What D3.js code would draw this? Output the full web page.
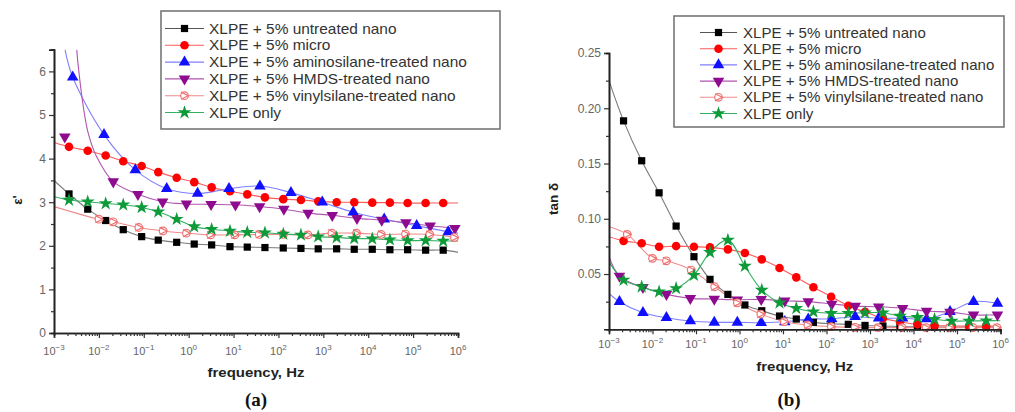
<!DOCTYPE html>
<html><head><meta charset="utf-8">
<script src="https://cdn.jsdelivr.net/npm/d3@7"></script>
<style>body{margin:0;background:#fff}svg{display:block}</style>
</head><body>
<svg id="c" width="1015" height="412"></svg>
<script>
// ---------- DATA ----------
const seriesLabels = [
  "XLPE + 5% untreated nano",
  "XLPE + 5% micro",
  "XLPE + 5% aminosilane-treated nano",
  "XLPE + 5% HMDS-treated nano",
  "XLPE + 5% vinylsilane-treated nano",
  "XLPE only"
];
const xTickExps = [-3,-2,-1,0,1,2,3,4,5,6];
const epsTicks = [0,1,2,3,4,5,6];
const tanTicks = [0.05,0.10,0.15,0.20,0.25];

// marker frequencies (Hz)
const fA = [0.00216,0.00564,0.01416,0.0349,0.0897,0.210,0.541,1.33,3.25,8.32,20.2,50.0,128,317,769,1980,4880,12300,30400,75500,190000,468000];
const fM = [0.00174,0.00603,0.0209,0.0741,0.263,0.891,3.16,11.0,38.0,132,457,1580,5620,20000,69200,240000,851000];
const fBlueA = [0.00261,0.0130,0.0647,0.324,1.58,7.91,38.7,190,946,4630,22700,120000,605000];
const fPink = [0.00263,0.0100,0.0209,0.0776,0.269,0.891,3.09,10.7,37.2,129,457,1550,5500,19500,67600,234000,832000];

// (a) permittivity ε'
const epsUntreated = [3.19,2.84,2.58,2.37,2.21,2.13,2.08,2.04,2.02,1.98,1.97,1.96,1.95,1.94,1.93,1.93,1.92,1.92,1.91,1.91,1.90,1.90];
const epsMicro = [4.27,4.18,4.07,3.94,3.83,3.69,3.56,3.46,3.34,3.25,3.18,3.11,3.07,3.05,3.02,3.00,3.00,2.99,2.99,2.98,2.98,2.98];
const epsAmino = [5.87,4.55,3.74,3.31,3.20,3.31,3.37,3.22,3.00,2.77,2.61,2.46,2.32];
const epsHmds = [4.50,null,3.47,3.18,3.01,2.96,2.95,2.94,2.90,2.84,2.75,2.70,2.63,2.59,2.53,2.46,2.40];
const epsVinyl = [null,2.61,2.55,2.42,2.34,2.29,2.25,2.25,2.26,2.26,2.25,2.29,2.29,2.26,2.27,2.26,2.19];
const epsXlpe = [3.05,3.01,2.97,2.94,2.88,2.78,2.61,2.44,2.38,2.34,2.31,2.30,2.27,2.25,2.21,2.19,2.17,2.16,2.14,2.12,2.12,2.11];
// fitted-curve end knots [Hz, value]
const epsHeads = [[[0.001,3.50]],[[0.001,4.37]],[[0.00176,6.5]],[[0.00321,6.5],[0.00348,6.11],[0.0045,5.19],[0.0058,4.58],[0.00893,4.04]],[[0.001,2.90]],[[0.001,3.13]]];
const epsTails = [[[1e6,1.85]],[[1e6,2.98]],[[1e6,2.29]],[[1e6,2.39]],[[1e6,2.16]],[[1e6,2.11]]];

// (b) loss tangent tan δ
const tanUntreated = [0.1886,0.1525,0.1235,0.0934,0.0657,0.0452,0.0316,0.0220,0.0168,0.0120,0.0093,0.0063,0.0050,0.0045,0.0035,0.0030,0.0025,0.0022,0.0020,0.0020,0.0020,0.0020];
const tanMicro = [0.0800,0.0778,0.0747,0.0753,0.0747,0.0741,0.0723,0.0690,0.0633,0.0555,0.0470,0.0380,0.0295,0.0213,0.0159,0.0099,0.0069,0.0045,0.0035,0.0030,0.0030,0.0030];
const tanAmino = [0.0250,0.0150,0.0105,0.0075,0.0063,0.0063,0.0060,0.0068,0.0092,0.0095,0.0114,0.0100,0.0100,0.0093,0.0159,0.0250,0.0235];
const tanHmds = [0.0482,0.0380,0.0316,0.0280,0.0274,0.0267,0.0271,0.0258,0.0250,0.0229,0.0210,0.0204,0.0190,0.0165,0.0155,0.0130,0.0130];
const tanVinyl = [0.0859,0.0642,0.0620,0.0536,0.0385,0.0240,0.0138,0.0069,0.0039,0.0024,0.0018,0.0015,0.0015,0.0015,0.0015,0.0015,0.0015];
const tanXlpe = [0.0446,0.0385,0.0340,0.0370,0.0490,0.0696,0.0807,0.0572,0.0355,0.0240,0.0190,0.0159,0.0145,0.0145,0.0150,0.0150,0.0120,0.0108,0.0090,0.0075,0.0075,0.0078];
const tanHeads = [[[0.001,0.225]],[[0.001,0.0837]],[[0.001,0.0325]],[[0.001,0.0657]],[[0.001,0.0928]],[[0.001,0.061]]];
const tanTails = [[[1e6,0.0020]],[[1e6,0.0030]],[],[[1e6,0.0128]],[[1e6,0.0015]],[[1e6,0.0078]]];

// ---------- STYLE ----------
const markColor = ["#000000","#ff0000","#1010ff","#8e0a8e","#f07070","#0f9a3a"];
const lineColor = ["#7a7a7a","#ff5a5a","#7f7fff","#b055b0","#f08a8a","#30b060"];
const shapes = ["square","circle","tri","tridown","vinyl","star"];

const svg = d3.select("#c");
const FONT = "'Liberation Sans', Arial, sans-serif";

function marker(g, shape, color, px, py, s) {
  s = s || 1;
  if (shape === "square") {
    g.append("rect").attr("x", px-3.6*s).attr("y", py-3.6*s).attr("width",7.2*s).attr("height",7.2*s).attr("fill",color);
  } else if (shape === "circle") {
    g.append("circle").attr("cx",px).attr("cy",py).attr("r",4.3*s).attr("fill",color);
  } else if (shape === "tri") {
    g.append("path").attr("transform",`translate(${px},${py})`).attr("d",d3.symbol(d3.symbolTriangle, 58*s*s)()).attr("fill",color);
  } else if (shape === "tridown") {
    g.append("path").attr("transform",`translate(${px},${py}) rotate(180)`).attr("d",d3.symbol(d3.symbolTriangle, 58*s*s)()).attr("fill",color);
  } else if (shape === "vinyl") {
    g.append("circle").attr("cx",px).attr("cy",py).attr("r",3.8*s).attr("fill","#fff").attr("stroke",color).attr("stroke-width",1.2);
    g.append("path").attr("d",`M${px-3.5*s},${py-3.6*s}L${px+3.8*s},${py}L${px-3.5*s},${py+3.6*s}`).attr("fill","none").attr("stroke",color).attr("stroke-width",1.2);
  } else if (shape === "star") {
    g.append("path").attr("transform",`translate(${px},${py})`).attr("d",d3.symbol(d3.symbolStar, 60*s*s)()).attr("fill",color);
  }
}

// text stretched horizontally around its anchor point
function wideText(g, x, y, sx, anchor) {
  return g.append("text").attr("transform",`translate(${x},${y}) scale(${sx},1)`).attr("text-anchor",anchor||"start");
}

function drawPanel(cfg) {
  const x = d3.scaleLog().domain([1e-3,1e6]).range([cfg.x0,cfg.x1]);
  const y = d3.scaleLinear().domain(cfg.yDomain).range([cfg.yb,cfg.yt]);
  const g = svg.append("g");
  const clipId = "clip"+cfg.id;
  svg.append("clipPath").attr("id",clipId).append("rect")
    .attr("x",cfg.x0).attr("y",cfg.yt).attr("width",cfg.x1-cfg.x0).attr("height",cfg.yb-cfg.yt);

  // curves + markers
  const line = d3.line().x(d=>x(d[0])).y(d=>y(d[1])).curve(d3.curveCatmullRom.alpha(0.5));
  cfg.series.forEach((s,i)=>{
    const pts = [];
    s.f.forEach((f,j)=>{ if (s.v[j]!=null && !(s.off||[]).includes(j)) pts.push([f,s.v[j]]); });
    const knots = s.head.concat(pts, s.tail);
    g.append("path").attr("d",line(knots)).attr("fill","none")
      .attr("stroke",lineColor[i]).attr("stroke-width",1.1).attr("clip-path",`url(#${clipId})`);
  });
  cfg.series.forEach((s,i)=>{
    const mg = g.append("g");
    s.f.forEach((f,j)=>{ if (s.v[j]!=null) marker(mg, shapes[i], markColor[i], x(f), y(s.v[j])); });
  });

  // axes
  const ax = svg.append("g").attr("font-family",FONT);
  const yAxis = d3.axisLeft(y).tickValues(cfg.yMajor).tickSize(5).tickFormat(cfg.yFmt);
  const yAxisMinor = d3.axisLeft(y).tickValues(cfg.yMinor).tickSize(3).tickFormat("");
  const ya = ax.append("g").attr("transform",`translate(${cfg.x0},0)`).call(yAxis);
  ax.append("g").attr("transform",`translate(${cfg.x0},0)`).call(yAxisMinor);
  const decs = xTickExps.map(e=>Math.pow(10,e));
  const minors = [];
  xTickExps.slice(0,-1).forEach(e=>{ for (let k=2;k<10;k++) minors.push(k*Math.pow(10,e)); });
  ax.append("g").attr("transform",`translate(0,${cfg.yb})`).call(d3.axisBottom(x).tickValues(decs).tickSize(5).tickFormat(""));
  ax.append("g").attr("transform",`translate(0,${cfg.yb})`).call(d3.axisBottom(x).tickValues(minors).tickSize(3).tickFormat(""));
  ax.selectAll(".domain").attr("stroke","#222").attr("stroke-width",1.6);
  ax.selectAll(".tick line").attr("stroke","#333").attr("stroke-width",1.2);
  ya.selectAll(".tick text").attr("fill","#666").attr("font-size",12).attr("x",-8);
  xTickExps.forEach(e=>{
    const t = ax.append("text").attr("x",x(Math.pow(10,e))).attr("y",cfg.yb+cfg.xLabOff)
      .attr("text-anchor","middle").attr("fill","#666").attr("font-size",11);
    t.append("tspan").text("10");
    t.append("tspan").attr("dy",-5).attr("font-size",8).text(String(e).replace("-","\u2212"));
  });
  wideText(ax,(cfg.x0+cfg.x1)/2,cfg.xTitleY,1.15,"middle")
    .attr("font-weight","bold").attr("font-size",13).attr("fill","#222").text("frequency, Hz");
  ax.append("text").attr("transform",`translate(${cfg.yTitleX},${cfg.yTitleY}) rotate(-90)`).attr("text-anchor","middle")
    .attr("font-weight","bold").attr("font-size",13.5).attr("fill","#222").text(cfg.yTitle);
  svg.append("text").attr("x",cfg.capX).attr("y",406).attr("text-anchor","middle")
    .attr("font-family","'Liberation Serif', 'Times New Roman', serif").attr("font-weight","bold")
    .attr("font-size",19).attr("fill","#111").text(cfg.caption);

  // legend
  const L = cfg.legend;
  const lg = svg.append("g").attr("font-family",FONT);
  lg.append("rect").attr("x",L.x).attr("y",L.y).attr("width",L.w).attr("height",L.h)
    .attr("fill","#fff").attr("stroke","#777").attr("stroke-width",1.6);
  seriesLabels.forEach((lab,i)=>{
    const yy = L.row0 + i*L.dy;
    lg.append("line").attr("x1",L.lx0).attr("x2",L.lx1).attr("y1",yy).attr("y2",yy)
      .attr("stroke",i===0?"#555":lineColor[i]).attr("stroke-width",1.1);
    marker(lg, shapes[i], markColor[i], (L.lx0+L.lx1)/2, yy);
    wideText(lg, L.tx, yy+5, L.sx).attr("font-size",L.fs).attr("fill","#333").text(lab);
  });
}

drawPanel({
  id:"a", x0:54, x1:458, yb:333, yt:49.6, yDomain:[0,6.5],
  yMajor:epsTicks, yMinor:[0.5,1.5,2.5,3.5,4.5,5.5], yFmt:d3.format("d"),
  yTitle:"\u03b5'", yTitleX:22, yTitleY:200, xTitleY:377, xLabOff:22, caption:"(a)", capX:256,
  legend:{x:161,y:11,w:339,h:118,row0:28.5,dy:16.8,lx0:165,lx1:204,tx:209,fs:14.3,sx:1.08},
  series:[
    {f:fA, v:epsUntreated, head:epsHeads[0], tail:epsTails[0]},
    {f:fA, v:epsMicro, head:epsHeads[1], tail:epsTails[1]},
    {f:fBlueA, v:epsAmino, head:epsHeads[2], tail:epsTails[2]},
    {f:fM, v:epsHmds, head:epsHeads[3], tail:epsTails[3], off:[0]},
    {f:fPink, v:epsVinyl, head:epsHeads[4], tail:epsTails[4]},
    {f:fA, v:epsXlpe, head:epsHeads[5], tail:epsTails[5]}
  ]
});
drawPanel({
  id:"b", x0:609, x1:1000.5, yb:329.3, yt:53, yDomain:[0,0.25],
  yMajor:tanTicks, yMinor:[0.025,0.075,0.125,0.175,0.225], yFmt:d3.format(".2f"),
  yTitle:"tan \u03b4", yTitleX:558, yTitleY:199, xTitleY:371, xLabOff:19, caption:"(b)", capX:789,
  legend:{x:674,y:16,w:330,h:111,row0:32.5,dy:16.2,lx0:700,lx1:737,tx:743,fs:14.2,sx:1.06},
  series:[
    {f:fA, v:tanUntreated, head:tanHeads[0], tail:tanTails[0]},
    {f:fA, v:tanMicro, head:tanHeads[1], tail:tanTails[1]},
    {f:fM, v:tanAmino, head:tanHeads[2], tail:tanTails[2]},
    {f:fM, v:tanHmds, head:tanHeads[3], tail:tanTails[3]},
    {f:fPink, v:tanVinyl, head:tanHeads[4], tail:tanTails[4]},
    {f:fA, v:tanXlpe, head:tanHeads[5], tail:tanTails[5]}
  ]
});
</script>
</body></html>
